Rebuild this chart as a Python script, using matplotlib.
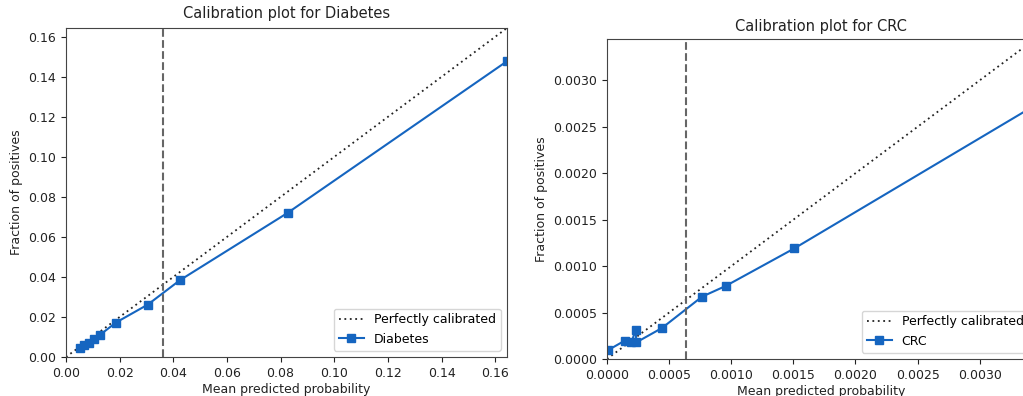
import matplotlib
matplotlib.use("Agg")
import matplotlib.pyplot as plt

# Diabetes calibration data
diab_pred = [0.0054, 0.0066, 0.0085, 0.0106, 0.0128, 0.0186, 0.0305, 0.0425, 0.0826, 0.1644]
diab_frac = [0.0047, 0.0058, 0.0072, 0.0089, 0.0112, 0.0172, 0.0262, 0.0384, 0.0720, 0.1478]
diab_thresh = 0.0360

# CRC calibration data
crc_pred = [0.0000107, 0.000142, 0.000196, 0.000231, 0.000236, 0.000443, 0.000765, 0.000955, 0.001508, 0.003445]
crc_frac = [0.0000969, 0.000197, 0.000179, 0.000312, 0.000179, 0.000334, 0.000671, 0.000786, 0.001191, 0.002731]
crc_thresh = 0.000636

diab_xticks = [0.00, 0.02, 0.04, 0.06, 0.08, 0.10, 0.12, 0.14, 0.16]
crc_ticks = [0.0000, 0.0005, 0.0010, 0.0015, 0.0020, 0.0025, 0.0030]

BLUE = "#1565c0"

fig = plt.figure(figsize=(10.23, 3.96), dpi=100)
ax1 = fig.add_axes([66/1023, 1-357/396, (507-66)/1023, (357-28)/396])
ax2 = fig.add_axes([607/1023, 1-359/396, (1035-607)/1023, (359-39)/396])

def draw(ax, pred, frac, thresh, name, ticks, fmt, title_pad):
    lim = max(pred)
    ax.plot([0, lim], [0, lim], linestyle=(0, (1, 2)), color="#222222", lw=1.3, label="Perfectly calibrated")
    ax.plot(pred, frac, marker="s", color=BLUE, lw=1.5, markersize=6, label=name)
    ax.axvline(thresh, color="#666666", linestyle="--", lw=1.5)
    ax.set_xlim(0, lim)
    ax.set_ylim(0, lim)
    ax.set_xticks(ticks)
    ax.set_yticks(ticks)
    ax.set_xticklabels([fmt.format(t) for t in ticks])
    ax.set_yticklabels([fmt.format(t) for t in ticks])
    ax.tick_params(labelsize=9, colors="#222222")
    ax.set_xlabel("Mean predicted probability", fontsize=9, labelpad=2, color="#222222")
    ax.set_ylabel("Fraction of positives", fontsize=9, color="#222222")
    ax.set_title(f"Calibration plot for {name}", fontsize=10.5, color="#222222", pad=title_pad)
    for s in ax.spines.values():
        s.set_color("#444444")
    return ax

draw(ax1, diab_pred, diab_frac, diab_thresh, "Diabetes", diab_xticks, "{:.2f}", 7)
ax1.legend(loc="lower right", fontsize=9)
draw(ax2, crc_pred, crc_frac, crc_thresh, "CRC", crc_ticks, "{:.4f}", 6)
ax2.legend(loc="lower right", fontsize=9)

fig.savefig("out.png", dpi=100)
